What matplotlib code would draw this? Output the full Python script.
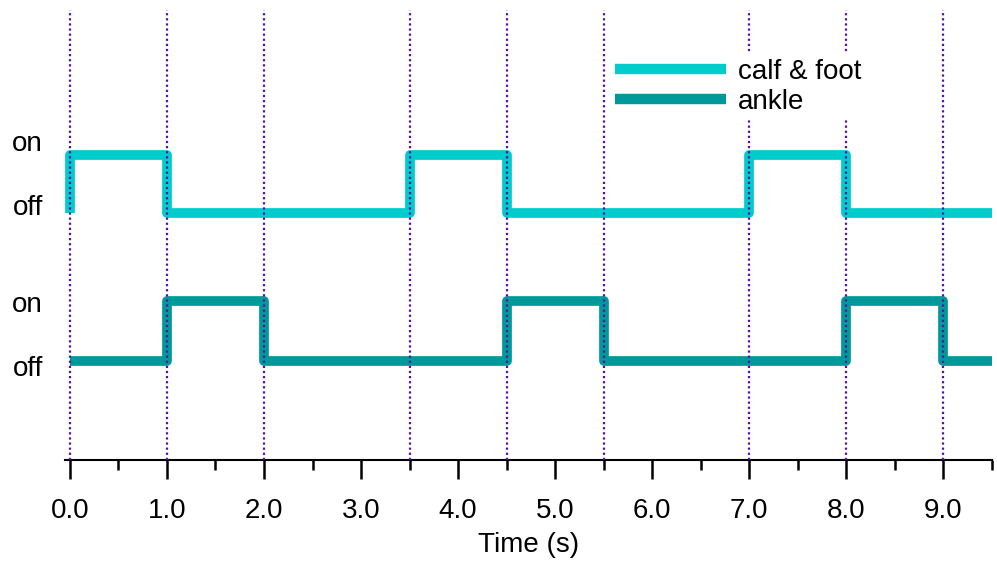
import numpy as np
import matplotlib
matplotlib.use("Agg")
import matplotlib.pyplot as plt
import matplotlib.ticker

plt.rcParams["font.family"] = ["Liberation Sans", "DejaVu Sans"]

# state change times (s) and on/off states after each change
calf_t = [0.0, 0.0, 1.0, 3.5, 4.5, 7.0, 8.0, 9.5]
calf_state = [0, 1, 0, 1, 0, 1, 0, 0]
ankle_t = [0.0, 1.0, 2.0, 4.5, 5.5, 8.0, 9.0, 9.5]
ankle_state = [0, 1, 0, 1, 0, 1, 0, 0]

# vertical markers at transitions
marks = [0.0, 1.0, 2.0, 3.5, 4.5, 5.5, 7.0, 8.0, 9.0]

# vertical levels of each trace (off, on)
calf_levels = (2.47, 3.05)
ankle_levels = (0.99, 1.59)
# where the on/off labels sit
label_pos = [3.19, 2.55, 1.58, 0.94]
label_text = ["on", "off", "on", "off"]

calf_color = "#00CCCC"
ankle_color = "#009999"
mark_color = "#5512A8"

fig = plt.figure(figsize=(9.97, 5.68), dpi=100)
ax = fig.add_axes([65 / 997, 108 / 568, 927 / 997, 450 / 568])

calf_y = [calf_levels[s] for s in calf_state]
ankle_y = [ankle_levels[s] for s in ankle_state]

ax.plot(calf_t, calf_y, drawstyle="steps-post", color=calf_color, lw=7,
        solid_joinstyle="round", solid_capstyle="butt", label="calf & foot", zorder=2)
ax.plot(ankle_t, ankle_y, drawstyle="steps-post", color=ankle_color, lw=7,
        solid_joinstyle="round", solid_capstyle="butt", label="ankle", zorder=2)

for m in marks:
    ax.axvline(m, color=mark_color, lw=1.6, linestyle=(0, (1, 1.3)), zorder=3)

ax.set_xlim(-0.05, 9.5)
ax.set_ylim(0, 4.5)

ax.xaxis.set_major_locator(matplotlib.ticker.MultipleLocator(1))
ax.xaxis.set_minor_locator(matplotlib.ticker.MultipleLocator(0.5))
ax.xaxis.set_major_formatter(matplotlib.ticker.FormatStrFormatter("%.1f"))
ax.tick_params(axis="x", which="major", length=14, width=1.8, labelsize=20, pad=13, direction="out")
ax.tick_params(axis="x", which="minor", length=7.5, width=1.8, direction="out")

ax.set_yticks(label_pos)
ax.set_yticklabels(label_text)
ax.tick_params(axis="y", length=0, labelsize=20, pad=16)

for s in ["top", "right", "left"]:
    ax.spines[s].set_visible(False)
ax.spines["bottom"].set_linewidth(1.5)

ax.set_xlabel("Time (s)", fontsize=20, labelpad=6)

leg = ax.legend(loc="upper left", bbox_to_anchor=(0.5735, 0.932), frameon=True, fontsize=20,
                handlelength=4.0, labelspacing=0.15, handletextpad=0.45, borderpad=0.15)
leg.get_frame().set_edgecolor("none")
leg.get_frame().set_facecolor("white")
leg.get_frame().set_alpha(1.0)
leg.set_zorder(5)
for line in leg.get_lines():
    line.set_linewidth(7.5)

plt.savefig("out.png", dpi=100)
